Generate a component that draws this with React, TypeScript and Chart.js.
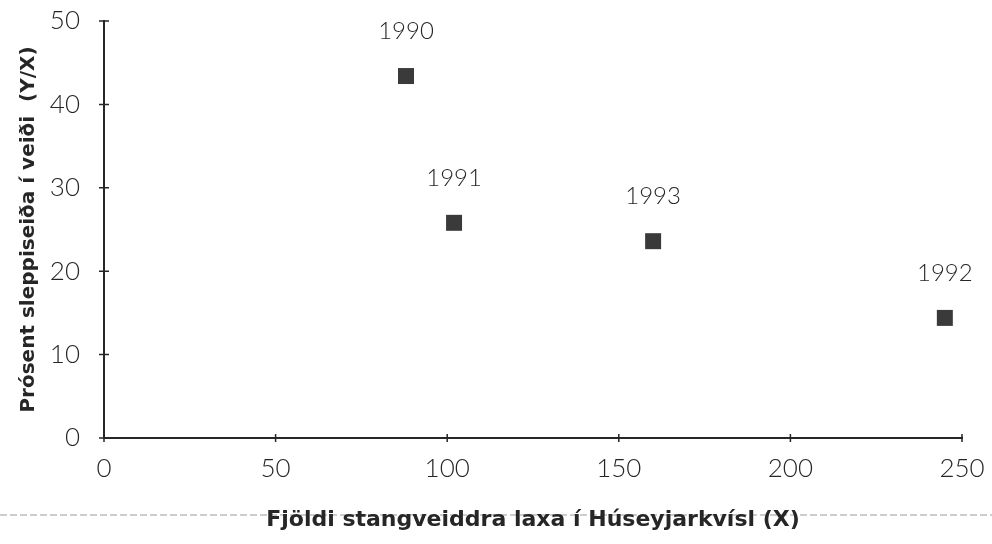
import React, { useEffect, useRef } from "react";
import { Chart, registerables } from "chart.js";

Chart.register(...registerables);

const xValues = [88, 102, 160, 245];
const yValues = [43.4, 25.8, 23.6, 14.4];
const yearLabels = ["1990", "1991", "1993", "1992"];
const xTitle = "Fjöldi stangveiddra laxa í Húseyjarkvísl (X)";
const yTitle = "Prósent sleppiseiða í veiði  (Y/X)";

const INK = "#262626";
const LIGHT_FONT = "Lato, 'Open Sans', sans-serif";
const BOLD_FONT = "'DejaVu Sans', sans-serif";

const pointLabels = {
  id: "pointLabels",
  afterDatasetsDraw(chart: any) {
    const ctx = chart.ctx;
    const meta = chart.getDatasetMeta(0);
    ctx.save();
    ctx.fillStyle = INK;
    ctx.font = `300 24px ${LIGHT_FONT}`;
    ctx.textAlign = "center";
    ctx.textBaseline = "middle";
    meta.data.forEach((el: any, i: number) => {
      ctx.fillText(yearLabels[i], el.x, el.y - 45);
    });
    ctx.restore();
  },
};

const crossTicks = {
  id: "crossTicks",
  beforeDraw(chart: any) {
    const ctx = chart.ctx;
    const y = chart.height - 29;
    ctx.save();
    ctx.strokeStyle = "#9a9a9a";
    ctx.lineWidth = 1;
    ctx.setLineDash([7, 3]);
    ctx.beginPath();
    ctx.moveTo(0, y);
    ctx.lineTo(chart.width, y);
    ctx.stroke();
    ctx.restore();
  },
  afterDraw(chart: any) {
    const ctx = chart.ctx;
    const { x, y } = chart.scales;
    const area = chart.chartArea;
    ctx.save();
    ctx.strokeStyle = INK;
    ctx.lineWidth = 1.5;
    ctx.beginPath();
    y.ticks.forEach((t: any) => {
      const py = y.getPixelForValue(t.value);
      ctx.moveTo(area.left - 5, py);
      ctx.lineTo(area.left + 5, py);
    });
    x.ticks.forEach((t: any) => {
      const px = x.getPixelForValue(t.value);
      ctx.moveTo(px, area.bottom - 4);
      ctx.lineTo(px, area.bottom + 4);
    });
    ctx.stroke();
    ctx.restore();
  },
};

export default function App() {
  const ref = useRef<HTMLCanvasElement | null>(null);
  useEffect(() => {
    if (!ref.current) return;
    const chart = new Chart(ref.current, {
      type: "scatter",
      data: {
        datasets: [
          {
            data: xValues.map((v, i) => ({ x: v, y: yValues[i] })),
            pointStyle: "rect",
            pointRadius: 11.3,
            pointHoverRadius: 11.3,
            backgroundColor: "#3a3a3a",
            borderColor: "#3a3a3a",
            borderWidth: 0,
          },
        ],
      },
      options: {
        animation: false,
        responsive: false,
        maintainAspectRatio: false,
        layout: { padding: { top: 21, right: 30, bottom: 0, left: 0 } },
        plugins: {
          legend: { display: false },
          tooltip: { enabled: false },
        },
        scales: {
          x: {
            type: "linear",
            min: 0,
            max: 250,
            grid: { display: false },
            border: { display: true, color: INK, width: 2 },
            ticks: {
              stepSize: 50,
              color: INK,
              padding: 7,
              font: { family: LIGHT_FONT, size: 26, weight: "300" as any },
            },
            title: {
              display: true,
              text: xTitle,
              color: INK,
              padding: { top: 0, bottom: 11 },
              font: { family: BOLD_FONT, size: 22, weight: "bold" },
            },
            afterFit: (s: any) => {
              s.height = 106;
              s.paddingLeft = 0;
              s.paddingRight = 0;
            },
          },
          y: {
            min: 0,
            max: 50,
            grid: { display: false },
            border: { display: true, color: INK, width: 2 },
            ticks: {
              stepSize: 10,
              color: INK,
              padding: 16,
              font: { family: LIGHT_FONT, size: 26, weight: "300" as any },
            },
            title: {
              display: true,
              text: yTitle,
              color: INK,
              padding: { top: 17, bottom: 0 },
              font: { family: BOLD_FONT, size: 20, weight: "bold" },
            },
            afterFit: (s: any) => {
              s.width = 104;
              s.paddingTop = 0;
              s.paddingBottom = 0;
            },
          },
        },
      },
      plugins: [pointLabels, crossTicks],
    });
    return () => chart.destroy();
  }, []);
  return (
    <div style={{ position: "fixed", left: 0, top: 0, width: 992, height: 544, background: "#fff" }}>
      <canvas ref={ref} width={992} height={544} style={{ display: "block" }} />
    </div>
  );
}
